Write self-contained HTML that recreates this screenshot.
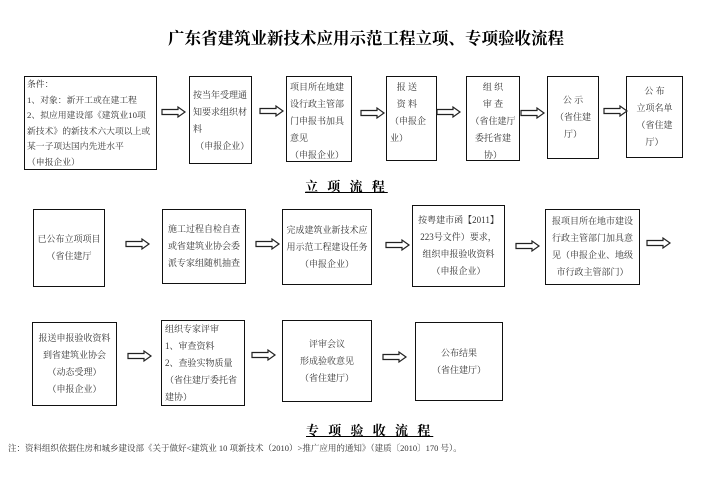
<!DOCTYPE html>
<html><head><meta charset="utf-8">
<style>
body{margin:0;width:702px;height:496px;background:#fff;position:relative;overflow:hidden;font-family:"Liberation Serif","Noto Serif CJK SC","Noto Sans CJK SC",serif;color:#333;}
.b{position:absolute;border:1.3px solid #111;box-sizing:border-box;font-size:9px;line-height:17px;padding:2px 3px;}
.c{text-align:center;display:flex;flex-direction:column;justify-content:center;}
.t{position:absolute;font-weight:bold;color:#000;}
svg{position:absolute;left:0;top:0;}
</style></head><body>
<div class="t" style="left:168px;top:25px;font-size:16.5px;">广东省建筑业新技术应用示范工程立项、专项验收流程</div>

<div class="b" style="left:24px;top:76px;width:133px;height:94px;line-height:15.5px;padding:0 2px;font-size:8.8px;">条件：<br>1、对象：新开工或在建工程<br>2、拟应用建设部《建筑业10项新技术》的新技术六大项以上或某一子项达国内先进水平<br>（申报企业）</div>
<div class="b" style="left:189px;top:76px;width:63px;height:88px;padding-top:10px;">按当年受理通知要求组织材料<br>&nbsp;（申报企业）</div>
<div class="b" style="left:286px;top:76px;width:66px;height:86px;">项目所在地建设行政主管部门申报书加具意见<br>（申报企业）</div>
<div class="b" style="left:386px;top:76px;width:51px;height:85px;">&nbsp;&nbsp;&nbsp;报 送<br>&nbsp;&nbsp;&nbsp;资 料<br>（申报企业）</div>
<div class="b" style="left:466px;top:76px;width:54px;height:85px;text-align:center;">组 织<br>审 查<br>（省住建厅委托省建协）</div>
<div class="b c" style="left:547px;top:76px;width:52px;height:83px;">公 示<br>（省住建厅）</div>
<div class="b c" style="left:626px;top:76px;width:57px;height:82px;">公 布<br>立项名单<br>（省住建厅）</div>

<div class="t" style="left:305px;top:176px;font-size:13px;text-decoration:underline;letter-spacing:3px;">立 项 流 程</div>

<div class="b c" style="left:33px;top:209px;width:72px;height:78px;">已公布立项项目<br>（省住建厅</div>
<div class="b c" style="left:162px;top:209px;width:84px;height:75px;">施工过程自检自查或省建筑业协会委派专家组随机抽查</div>
<div class="b c" style="left:282px;top:209px;width:90px;height:76px;">完成建筑业新技术应用示范工程建设任务<br>（申报企业）</div>
<div class="b c" style="left:412px;top:205px;width:93px;height:82px;">按粤建市函【2011】223号文件）要求，组织申报验收资料<br>（申报企业）</div>
<div class="b c" style="left:545px;top:209px;width:95px;height:76px;">报项目所在地市建设行政主管部门加具意见（申报企业、地级市行政主管部门）</div>

<div class="b c" style="left:32px;top:322px;width:85px;height:84px;">报送申报验收资料到省建筑业协会（动态受理）<br>（申报企业）</div>
<div class="b" style="left:161px;top:320px;width:84px;height:86px;padding-top:0;">组织专家评审<br>1、审查资料<br>2、查验实物质量<br>（省住建厅委托省建协）</div>
<div class="b c" style="left:282px;top:320px;width:90px;height:82px;">评审会议<br>形成验收意见<br>（省住建厅）</div>
<div class="b c" style="left:415px;top:322px;width:88px;height:79px;">公布结果<br>（省住建厅）</div>

<div class="t" style="left:306px;top:420px;font-size:13px;text-decoration:underline;letter-spacing:3px;">专 项 验 收 流 程</div>
<div style="position:absolute;left:8px;top:442px;font-size:8.5px;white-space:nowrap;">注：资料组织依据住房和城乡建设部《关于做好&lt;建筑业 10 项新技术（2010）&gt;推广应用的通知》（建质〔2010〕170 号）。</div>

<svg width="702" height="496">
<defs><g id="a"><polygon points="0,-2.5 16,-2.5 16,-5 23,0 16,5 16,2.5 0,2.5" fill="#fff" stroke="#222" stroke-width="1.2"/></g></defs>
<use href="#a" x="162" y="112"/>
<use href="#a" x="260" y="111"/>
<use href="#a" x="361" y="113"/>
<use href="#a" x="437" y="112"/>
<use href="#a" x="521" y="113"/>
<use href="#a" x="604" y="111"/>
<use href="#a" x="126" y="244"/>
<use href="#a" x="256" y="244"/>
<use href="#a" x="386" y="245"/>
<use href="#a" x="516" y="246"/>
<use href="#a" x="647" y="243"/>
<use href="#a" x="128" y="356"/>
<use href="#a" x="252" y="355"/>
<use href="#a" x="383" y="357"/>
</svg>
</body></html>
